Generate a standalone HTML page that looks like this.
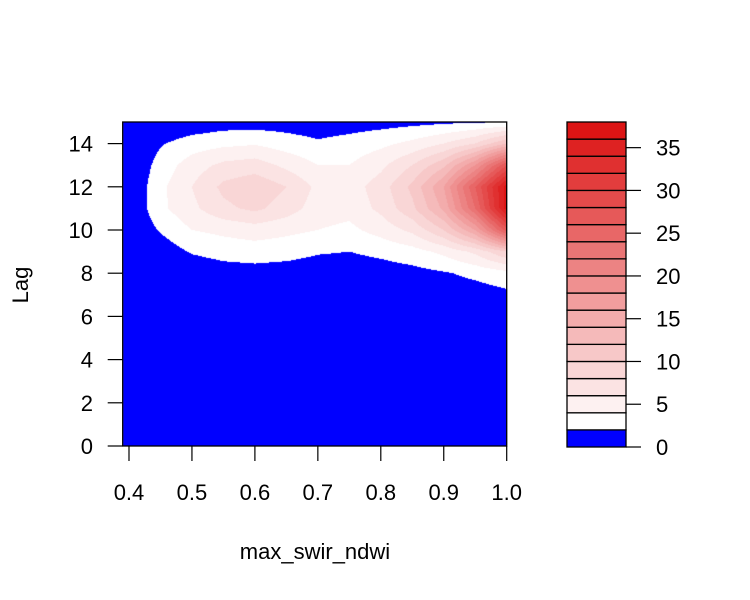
<!DOCTYPE html>
<html><head><meta charset="utf-8"><style>
body{margin:0;background:#fff;}
#wrap{position:relative;width:750px;height:600px;font-family:"Liberation Sans",Arial,sans-serif;}
canvas{position:absolute;left:0;top:0;}
svg{position:absolute;left:0;top:0;}
text{font-family:"Liberation Sans",Arial,sans-serif;font-size:22px;fill:#000;}
</style></head><body>
<div id="wrap">
<canvas id="cv" width="750" height="600"></canvas>
<svg id="sv" width="750" height="600"></svg>
</div>
<script>
const xGrid=[0.40,0.45,0.50,0.55,0.60,0.65,0.70,0.75,0.80,0.85,0.90,0.95,1.00];
const yGrid=[0,1,2,3,4,5,6,7,8,9,10,11,12,13,14,15];
const zRow7=[0,0,0,0.2,0.3,0.3,0.2,0.2,0.3,0.5,0.7,1,1.5];
const zRow8=[0,0,0.5,1,1.2,1,0.8,0.8,1,1.3,1.8,2.5,3.3];
const zRow9=[0,0.8,2.2,2.8,3,2.8,2.2,2,2.5,3.2,4.5,6.5,10];
const zRow10=[0,2.2,4,4.5,5,4.5,4,3.5,4.8,6.5,10,16,27];
const zRow11=[0,3.5,5.5,7.5,8.5,7,5,4.7,6.5,9.5,14.5,24,37];
const zRow12=[0,3.5,6,8.5,9.5,8,5.5,5,7,10.5,16,26,37];
const zRow13=[0,2.8,5,6.5,7,5.5,4,4,5.5,8,11.5,18,28];
const zRow14=[0,1.8,3,3.5,3.8,3,2.3,2.8,3.5,4.5,6,8,12];
const zRow15=[0,0,0.5,1,1,1,0.8,1,1.2,1.4,1.6,1.8,1.9];
const zero=[0,0,0,0,0,0,0,0,0,0,0,0,0];
const Z=[zero,zero,zero,zero,zero,zero,zero,zRow7,zRow8,zRow9,zRow10,zRow11,zRow12,zRow13,zRow14,zRow15];
const levels=[0,2,4,6,8,10,12,14,16,18,20,22,24,26,28,30,32,34,36,38];
const xTicks=[0.4,0.5,0.6,0.7,0.8,0.9,1.0];
const yTicks=[0,2,4,6,8,10,12,14];
const legTicks=[0,5,10,15,20,25,30,35];

const L=122.7,R=506.7,T=122,B=446;
const X0=0.39,X1=1.0,Y0=0,Y1=15;
const sx=v=>L+(v-X0)/(X1-X0)*(R-L);
const sy=v=>B-(v-Y0)/(Y1-Y0)*(B-T);
const LT=122,LB=447,LL=567,LR=626;
const ly=v=>LB-(v-levels[0])/(levels[levels.length-1]-levels[0])*(LB-LT);
function col(i){
  if(i<=0) return [0,0,255];
  const k=i-1,n=levels.length-3;
  const t=Math.min(1,k/n);
  return [Math.round(255-35*t),Math.round(255-235*t),Math.round(255-235*t)];
}
function zAt(x,y){
  const cx=Math.max(xGrid[0],Math.min(x,xGrid[xGrid.length-1]));
  let i=0;while(i<xGrid.length-2&&cx>xGrid[i+1])i++;
  let j=0;while(j<yGrid.length-2&&y>yGrid[j+1])j++;
  const tx=(cx-xGrid[i])/(xGrid[i+1]-xGrid[i]);
  const ty=Math.max(0,Math.min(1,(y-yGrid[j])/(yGrid[j+1]-yGrid[j])));
  const a=Z[j][i],b=Z[j][i+1],c=Z[j+1][i],d=Z[j+1][i+1];
  return (a*(1-tx)+b*tx)*(1-ty)+(c*(1-tx)+d*tx)*ty;
}
const cv=document.getElementById('cv'),ctx=cv.getContext('2d');
const img=ctx.createImageData(750,600);
for(let py=Math.round(T);py<Math.round(B);py++){
  for(let px=Math.round(L);px<Math.round(R);px++){
    const x=X0+(px+0.5-L)/(R-L)*(X1-X0);
    const y=Y0+(B-py-0.5)/(B-T)*(Y1-Y0);
    const z=zAt(x,y);
    let k=0;while(k<levels.length-2&&z>=levels[k+1])k++;
    const c=col(k);const o=(py*750+px)*4;
    img.data[o]=c[0];img.data[o+1]=c[1];img.data[o+2]=c[2];img.data[o+3]=255;
  }
}
ctx.putImageData(img,0,0);

const sv=document.getElementById('sv');const NS='http://www.w3.org/2000/svg';
function mk(tag,attrs,txt){const e=document.createElementNS(NS,tag);for(const k in attrs)e.setAttribute(k,attrs[k]);if(txt!==undefined)e.textContent=txt;sv.appendChild(e);return e;}
let e;
e=mk('rect',{x:L,y:T,width:R-L,height:B-T,fill:'none',stroke:'#000','stroke-width':1.3});


xTicks.forEach(v=>{
  e=mk('line',{x1:sx(v),x2:sx(v),y1:B,y2:B+15,stroke:'#000','stroke-width':1.2});
  
  
  e=mk('text',{x:sx(v),y:500,'text-anchor':'middle'},v.toFixed(1));
  
  
});
yTicks.forEach(v=>{
  e=mk('line',{x1:L-15,x2:L,y1:sy(v),y2:sy(v),stroke:'#000','stroke-width':1.2});
  
  
  e=mk('text',{x:93,y:sy(v)+8,'text-anchor':'end'},String(v));
  
  
});
e=mk('text',{x:315,y:559,'text-anchor':'middle'},'max_swir_ndwi');


e=mk('text',{x:0,y:0,'text-anchor':'middle',transform:'translate(28,285) rotate(-90)'},'Lag');


for(let i=0;i<levels.length-1;i++){
  const c=col(i);
  e=mk('rect',{x:LL,y:ly(levels[i+1]),width:LR-LL,height:ly(levels[i])-ly(levels[i+1]),fill:`rgb(${c[0]},${c[1]},${c[2]})`,stroke:'#000','stroke-width':1.3});
  
  
}
legTicks.forEach(v=>{
  e=mk('line',{x1:LR,x2:LR+15,y1:ly(v),y2:ly(v),stroke:'#000','stroke-width':1.2});
  
  
  e=mk('text',{x:656,y:ly(v)+8,'text-anchor':'start'},String(v));
  
  
});
</script>
</body></html>
